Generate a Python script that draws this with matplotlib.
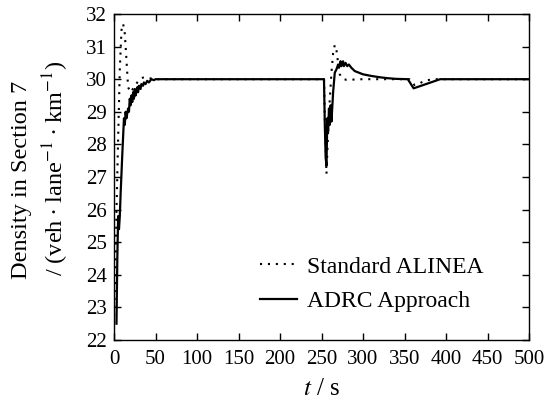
import matplotlib
matplotlib.use("Agg")
import matplotlib.pyplot as plt

plt.rcParams['font.family'] = ['Liberation Serif', 'DejaVu Serif']
plt.rcParams['mathtext.fontset'] = 'stix'

# Standard ALINEA (dotted)
alinea_t = [0, 2, 3, 5, 7, 9, 11, 13, 15, 17, 20, 24, 28, 32, 36, 40, 50, 250, 253,
            254, 256, 258, 260, 262, 264, 266, 268, 270, 272, 275, 280, 300, 340,
            356, 360, 362, 366, 372, 378, 384, 400, 500]
alinea_v = [22.5, 24.5, 26.0, 28.2, 30.3, 31.5, 31.7, 31.4, 30.6, 29.75, 29.6, 29.75, 29.9,
            30.02, 30.06, 30.04, 30.0, 30.0, 30.0,
            28.8, 27.1, 28.4, 29.4, 30.2, 30.8, 31.05, 30.9, 30.5, 30.15, 30.02, 29.98, 30.0, 30.0,
            30.0, 29.9, 29.82, 29.85, 29.92, 29.97, 30.0, 30.0, 30.0]

# ADRC Approach (solid)
adrc_t = [3, 4, 5, 6, 7, 8, 10, 12, 13, 14, 15, 17, 18, 19, 20, 21, 22, 23, 24, 25, 26,
          28, 29, 30, 32, 33, 35, 36, 38, 40, 42, 45, 48, 50, 55, 200, 253,
          254, 255, 256, 257, 258, 259, 260, 261, 262, 264, 266, 268, 270, 271, 273, 274,
          276, 277, 279, 281, 283, 286, 290, 300, 310, 320, 330, 340, 354, 361, 393, 500]
adrc_v = [22.5, 24.5, 25.8, 25.4, 25.8, 26.5, 27.7, 28.8, 28.6, 29.0, 28.8, 29.1, 29.0,
          29.4, 29.2, 29.5, 29.3, 29.6, 29.4, 29.7, 29.5, 29.75, 29.6, 29.8, 29.7, 29.85,
          29.8, 29.9, 29.85, 29.95, 29.9, 30.0, 29.97, 30.0, 30.0, 30.0, 30.0,
          28.6, 27.6, 27.35, 28.8, 28.4, 29.1, 28.6, 29.2, 28.7, 29.6, 30.2, 30.3, 30.45,
          30.35, 30.55, 30.4, 30.55, 30.4, 30.5, 30.4, 30.45, 30.35, 30.25, 30.15, 30.1,
          30.06, 30.03, 30.01, 30.0, 29.72, 30.0, 30.0]

x_ticks = list(range(0, 501, 50))
y_ticks = list(range(22, 33))

W, H = 547, 407
fig = plt.figure(figsize=(W / 100, H / 100), dpi=100)
ax = fig.add_axes([114 / W, 1 - 340 / H, (529 - 114) / W, (340 - 14) / H])

ax.plot(alinea_t, alinea_v, color='black', lw=1.5, linestyle=(0, (1, 2.8)),
        label='Standard ALINEA')
ax.plot(adrc_t, adrc_v, color='black', lw=1.6, label='ADRC Approach')

ax.set_xlim(0, 500)
ax.set_ylim(22, 32)
ax.set_xticks(x_ticks)
ax.set_yticks(y_ticks)
ax.tick_params(direction='in', top=True, right=True, length=5, width=1,
               labelsize=15)
ax.tick_params(axis='x', pad=7)
ax.tick_params(axis='y', pad=5)
for s in ax.spines.values():
    s.set_linewidth(1)

ax.set_xlabel('$t$ / s', fontsize=18, labelpad=7)

fig.text(22 / W, 1 - 180 / H, 'Density in Section 7', rotation=90,
         ha='center', va='center', fontsize=17.5)
fig.text(56 / W, 1 - 168 / H, '/ (veh\u2009·\u2009lane$^{-1}$\u2009·\u2009km$^{-1}$)',
         rotation=90, ha='center', va='center', fontsize=17.5)

ax.legend(loc='center', bbox_to_anchor=(372 / W, 1 - 284 / H),
          bbox_transform=fig.transFigure, frameon=False, fontsize=17,
          handlelength=1.55, handletextpad=0.45, labelspacing=0.55)

fig.savefig('out.png', dpi=100)
